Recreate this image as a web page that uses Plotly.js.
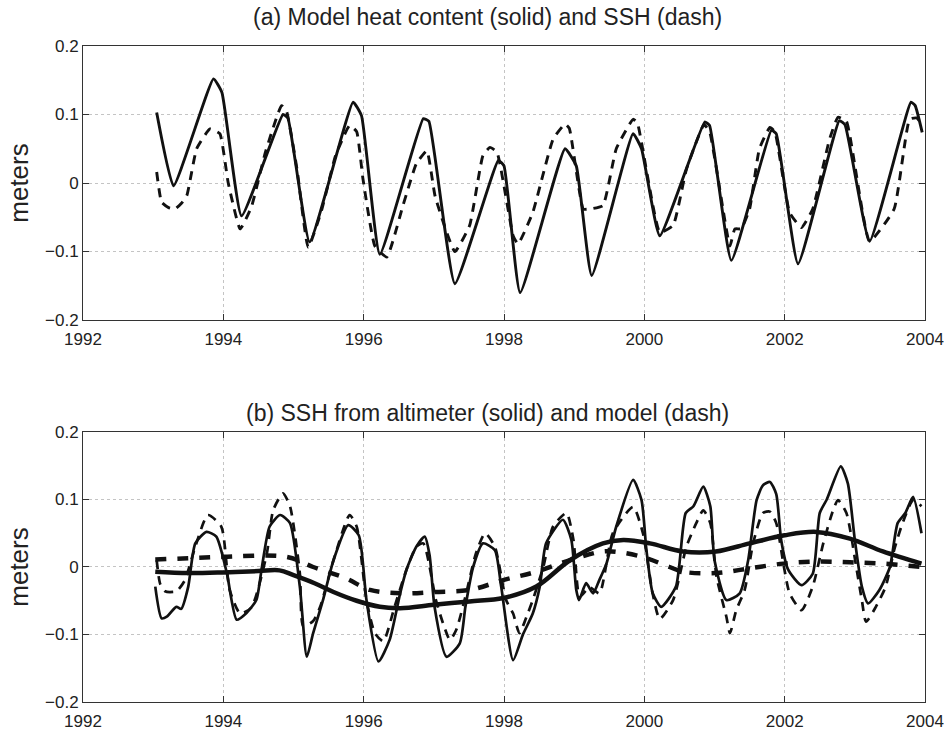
<!DOCTYPE html>
<html><head><meta charset="utf-8">
<script src="https://cdn.plot.ly/plotly-3.0.1.min.js"></script>
<style>html,body{margin:0;padding:0;background:#fff}#chart{width:944px;height:730px}</style>
</head><body><div id="chart"></div>
<script>
// ---- tick labels ----
const yearTicks = [1992, 1994, 1996, 1998, 2000, 2002, 2004];
const yTickVals = [-0.2, -0.1, 0, 0.1, 0.2];
const yTickText = ['\u22120.2', '\u22120.1', '0', '0.1', '0.2'];

// ---- panel (a): model heat content (solid) ----
const heatX = [1993.05,1993.29,1993.86,1993.98,1994.26,1994.85,1994.92,1995.23,1995.85,1995.97,1996.23,1996.85,1996.93,1997.30,1997.92,1998.00,1998.23,1998.87,1999.03,1999.25,1999.84,1999.96,2000.22,2000.86,2000.93,2001.24,2001.81,2001.88,2002.19,2002.78,2002.86,2003.21,2003.80,2003.86,2003.96];
const heatY = [0.103,-0.004,0.152,0.132,-0.048,0.100,0.095,-0.086,0.118,0.098,-0.104,0.094,0.090,-0.147,0.033,0.025,-0.160,0.050,0.025,-0.135,0.072,0.050,-0.077,0.089,0.084,-0.113,0.077,0.072,-0.118,0.091,0.085,-0.085,0.118,0.113,0.074];

// ---- panel (a): model SSH (dash) ----
const sshModelAX = [1993.05,1993.12,1993.22,1993.31,1993.40,1993.48,1993.62,1993.81,1993.95,1994.07,1994.24,1994.40,1994.60,1994.83,1994.90,1995.05,1995.21,1995.40,1995.60,1995.80,1995.90,1995.99,1996.16,1996.33,1996.56,1996.75,1996.90,1997.02,1997.30,1997.51,1997.70,1997.80,1997.90,1998.13,1998.20,1998.41,1998.70,1998.87,1998.93,1999.13,1999.22,1999.41,1999.60,1999.84,1999.90,2000.22,2000.41,2000.60,2000.85,2000.93,2001.22,2001.29,2001.38,2001.50,2001.64,2001.79,2001.86,2002.07,2002.24,2002.40,2002.64,2002.76,2002.88,2003.21,2003.56,2003.78,2003.88,2003.96];
const sshModelAY = [0.016,-0.028,-0.036,-0.038,-0.030,-0.018,0.050,0.079,0.072,0.000,-0.067,-0.035,0.045,0.113,0.105,0.020,-0.094,-0.040,0.040,0.084,0.075,0.006,-0.092,-0.108,-0.033,0.028,0.047,-0.020,-0.100,-0.062,0.040,0.052,0.045,-0.077,-0.089,-0.043,0.064,0.086,0.080,-0.038,-0.038,-0.033,0.050,0.093,0.088,-0.072,-0.062,0.020,0.085,0.075,-0.092,-0.067,-0.067,-0.038,0.050,0.081,0.075,-0.043,-0.065,-0.038,0.064,0.096,0.090,-0.085,-0.038,0.093,0.095,0.085];

// ---- panel (b): altimeter SSH (solid) ----
const altX = [1993.03,1993.12,1993.20,1993.33,1993.40,1993.50,1993.60,1993.76,1993.90,1994.05,1994.19,1994.33,1994.47,1994.55,1994.66,1994.81,1994.95,1995.09,1995.19,1995.28,1995.42,1995.57,1995.78,1995.93,1996.04,1996.21,1996.37,1996.52,1996.61,1996.75,1996.87,1996.94,1997.01,1997.18,1997.37,1997.45,1997.56,1997.70,1997.87,1997.96,1998.13,1998.27,1998.41,1998.51,1998.60,1998.84,1998.96,1999.03,1999.07,1999.17,1999.27,1999.36,1999.46,1999.60,1999.84,1999.96,2000.03,2000.12,2000.24,2000.45,2000.59,2000.70,2000.84,2000.94,2001.00,2001.17,2001.36,2001.48,2001.60,2001.69,2001.79,2001.88,2001.95,2002.05,2002.24,2002.40,2002.50,2002.60,2002.80,2002.90,2003.00,2003.10,2003.19,2003.35,2003.50,2003.61,2003.72,2003.83,2003.95];
const altY = [-0.029,-0.076,-0.073,-0.059,-0.062,-0.029,0.035,0.052,0.045,-0.009,-0.078,-0.068,-0.049,0.000,0.060,0.077,0.065,-0.029,-0.133,-0.098,-0.049,0.010,0.062,0.047,-0.049,-0.140,-0.108,-0.039,-0.004,0.030,0.045,0.017,-0.059,-0.133,-0.113,-0.059,0.000,0.035,0.025,-0.029,-0.138,-0.100,-0.069,-0.029,0.035,0.070,0.040,-0.034,-0.049,-0.024,-0.039,-0.019,0.005,0.060,0.129,0.099,0.025,-0.039,-0.059,-0.029,0.080,0.090,0.119,0.090,0.010,-0.049,-0.039,0.010,0.099,0.121,0.126,0.108,0.040,-0.004,-0.027,-0.010,0.080,0.100,0.149,0.124,0.040,-0.029,-0.054,-0.034,0.000,0.065,0.080,0.104,0.050];

// ---- panel (b): model SSH (dash) ----
const sshModelBX = [1993.05,1993.10,1993.17,1993.33,1993.45,1993.60,1993.78,1993.97,1994.09,1994.24,1994.40,1994.62,1994.71,1994.85,1994.95,1995.09,1995.14,1995.28,1995.38,1995.57,1995.80,1995.90,1996.04,1996.16,1996.28,1996.44,1996.61,1996.75,1996.85,1997.03,1997.13,1997.23,1997.32,1997.45,1997.60,1997.73,1997.87,1998.03,1998.13,1998.22,1998.32,1998.41,1998.56,1998.70,1998.89,1998.99,1999.08,1999.22,1999.36,1999.55,1999.84,1999.98,2000.12,2000.22,2000.41,2000.60,2000.74,2000.84,2000.94,2001.03,2001.17,2001.22,2001.31,2001.43,2001.55,2001.69,2001.79,2001.88,2001.99,2002.07,2002.24,2002.40,2002.55,2002.69,2002.76,2002.88,2003.02,2003.10,2003.16,2003.30,2003.44,2003.56,2003.68,2003.83,2003.95];
const sshModelBY = [0.010,-0.025,-0.036,-0.036,-0.020,0.030,0.077,0.060,-0.034,-0.069,-0.060,0.020,0.084,0.109,0.090,-0.009,-0.088,-0.080,-0.059,0.010,0.077,0.060,-0.049,-0.098,-0.110,-0.059,-0.004,0.030,0.035,-0.049,-0.083,-0.108,-0.093,-0.044,0.020,0.050,0.030,-0.049,-0.069,-0.098,-0.074,-0.049,0.000,0.060,0.080,0.040,-0.044,-0.030,-0.039,0.050,0.089,0.050,-0.040,-0.077,-0.049,0.030,0.065,0.084,0.065,-0.015,-0.074,-0.098,-0.064,-0.034,0.035,0.080,0.082,0.065,0.000,-0.039,-0.064,-0.029,0.035,0.084,0.099,0.080,0.000,-0.049,-0.081,-0.059,-0.029,0.025,0.065,0.099,0.090];

// ---- panel (b): low-passed altimeter (thick solid) and model (thick dash) ----
const altLowX = [1993.03,1993.5,1994.0,1994.5,1994.8,1995.0,1995.3,1995.57,1995.9,1996.23,1996.52,1997.0,1997.51,1997.99,1998.46,1998.94,1999.41,1999.7,2000.08,2000.55,2001.02,2001.5,2002.0,2002.45,2002.93,2003.4,2003.95];
const altLowY = [-0.007,-0.009,-0.008,-0.006,-0.005,-0.012,-0.024,-0.037,-0.050,-0.059,-0.061,-0.056,-0.051,-0.046,-0.029,0.010,0.035,0.040,0.035,0.023,0.023,0.035,0.047,0.052,0.042,0.023,0.005];
const modLowX = [1993.03,1993.5,1994.0,1994.9,1995.28,1995.75,1996.09,1996.56,1997.0,1997.51,1998.0,1998.46,1998.94,1999.41,1999.7,2000.03,2000.36,2000.55,2001.02,2001.5,2001.98,2002.45,2002.93,2003.4,2003.95];
const modLowY = [0.011,0.013,0.015,0.015,0.000,-0.017,-0.034,-0.039,-0.037,-0.034,-0.019,-0.007,0.010,0.023,0.021,0.013,0.000,-0.007,-0.009,-0.002,0.005,0.008,0.007,0.005,0.000];

const ink = '#111111';
const traces = [
  {x: heatX, y: heatY, xaxis:'x', yaxis:'y', mode:'lines', line:{color:ink, width:2.9, shape:'spline', smoothing:0.4}, name:'heat content'},
  {x: sshModelAX, y: sshModelAY, xaxis:'x', yaxis:'y', mode:'lines', line:{color:ink, width:2.9, dash:'9px,7px', shape:'spline', smoothing:0.4}, name:'SSH'},
  {x: altLowX, y: altLowY, xaxis:'x2', yaxis:'y2', mode:'lines', line:{color:ink, width:4.5, shape:'spline', smoothing:1}, name:'altimeter low-pass'},
  {x: modLowX, y: modLowY, xaxis:'x2', yaxis:'y2', mode:'lines', line:{color:ink, width:4.5, dash:'11px,11px', shape:'spline', smoothing:1}, name:'model low-pass'},
  {x: altX, y: altY, xaxis:'x2', yaxis:'y2', mode:'lines', line:{color:ink, width:2.7, shape:'spline', smoothing:0.6}, name:'altimeter'},
  {x: sshModelBX, y: sshModelBY, xaxis:'x2', yaxis:'y2', mode:'lines', line:{color:ink, width:2.7, dash:'9px,7px', shape:'spline', smoothing:0.6}, name:'model'}
];

const fontFam = 'Liberation Sans, Arial, Helvetica, sans-serif';
function xAx(anchor){
  return {anchor:anchor, domain:[0,1], range:[1992,2004], tickvals:yearTicks, ticktext:yearTicks.map(String),
    ticks:'inside', ticklen:6, tickcolor:'#333', mirror:'ticks', showline:true, linecolor:'#333', linewidth:1,
    showgrid:true, gridcolor:'#c4c4c4', griddash:'dot', gridwidth:1, zeroline:false,
    tickfont:{size:17, color:'#222', family:fontFam}, ticklabelstandoff:4};
}
function yAx(anchor, dom){
  return {anchor:anchor, domain:dom, range:[-0.2,0.2], tickvals:yTickVals, ticktext:yTickText,
    ticks:'inside', ticklen:6, tickcolor:'#333', mirror:'ticks', showline:true, linecolor:'#333', linewidth:1,
    showgrid:true, gridcolor:'#c4c4c4', griddash:'dot', gridwidth:1, zeroline:false,
    tickfont:{size:17, color:'#222', family:fontFam}, ticklabelstandoff:0,
    title:{text:'meters', font:{size:26, color:'#222', family:fontFam}, standoff:8}};
}

const layout = {
  width:944, height:730, paper_bgcolor:'#fff', plot_bgcolor:'#fff', showlegend:false,
  margin:{l:83, r:19, t:46, b:28},
  font:{family:fontFam, color:'#222'},
  xaxis: xAx('y'), yaxis: yAx('x', [0.5823,1]),
  xaxis2: xAx('y2'), yaxis2: yAx('x2', [0,0.4116]),
  annotations:[
    {text:'(a) Model heat content (solid) and SSH (dash)', xref:'paper', yref:'paper', x:0.48, y:1.044, xanchor:'center', yanchor:'middle', showarrow:false, font:{size:23, color:'#222', family:fontFam}},
    {text:'(b) SSH from altimeter (solid) and model (dash)', xref:'paper', yref:'paper', x:0.48, y:0.4405, xanchor:'center', yanchor:'middle', showarrow:false, font:{size:23, color:'#222', family:fontFam}}
  ]
};
Plotly.newPlot('chart', traces, layout, {staticPlot:true, displayModeBar:false});
</script></body></html>
